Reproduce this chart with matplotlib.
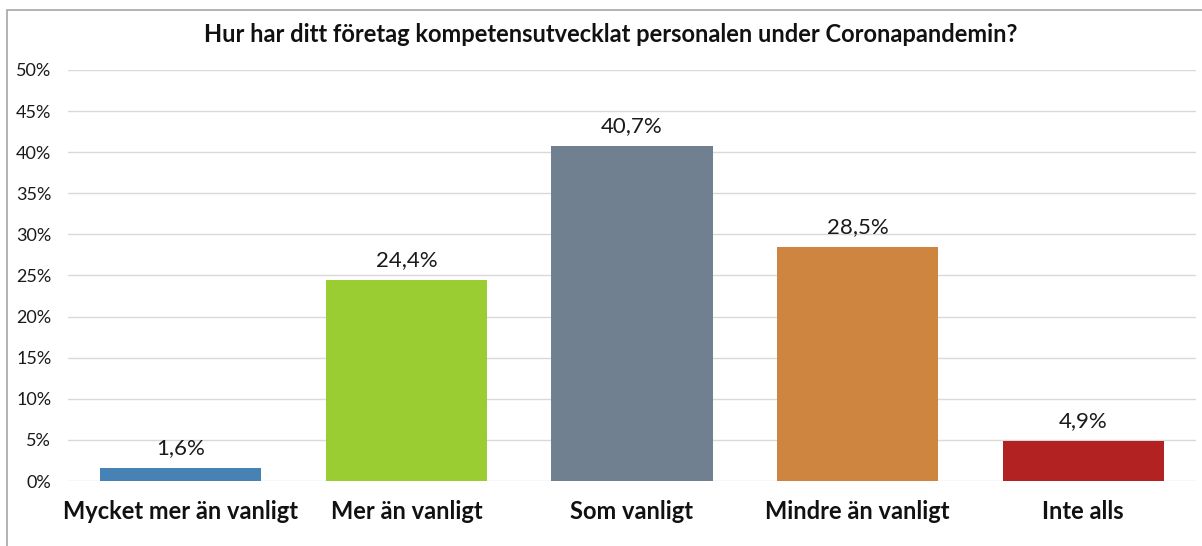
import matplotlib.pyplot as plt
from matplotlib.patches import Rectangle

categories = ["Mycket mer än vanligt", "Mer än vanligt", "Som vanligt",
              "Mindre än vanligt", "Inte alls"]
values = [1.6, 24.4, 40.7, 28.5, 4.9]
colors = ["#4682B4", "#9ACD32", "#708090", "#CD853F", "#B22222"]
yticks = [0, 5, 10, 15, 20, 25, 30, 35, 40, 45, 50]

plt.rcParams["font.family"] = ["Lato", "DejaVu Sans"]

fig = plt.figure(figsize=(12.02, 5.46), dpi=100)
ax = fig.add_axes([68 / 1202, 0.119, 1128 / 1202, 0.753])

# outer frame like the Excel chart area (right and bottom edges are off the picture)
fig.patches.append(Rectangle((7 / 1202, -0.01), 1.0, 1 - 10 / 546 + 0.01,
                             transform=fig.transFigure, fill=False,
                             edgecolor="#A6A6A6", linewidth=1.2))

x = range(len(categories))
bars = ax.bar(x, values, width=0.715, color=colors, zorder=3)

for b, v in zip(bars, values):
    ax.annotate(f"{v:.1f}%".replace(".", ","), (b.get_x() + b.get_width() / 2, v),
                xytext=(0, 10), textcoords="offset points",
                ha="center", va="baseline", fontsize=16, color="#1a1a1a")

ax.set_xlim(-0.5, len(categories) - 0.5)
ax.set_ylim(0, 50)
ax.set_yticks(yticks)
ax.set_yticklabels([f"{t}%" for t in yticks], fontsize=13, color="#1a1a1a")
ax.set_xticks(list(x))
ax.set_xticklabels(categories, fontsize=17, fontweight="bold", color="#111111")
ax.tick_params(axis="both", length=0)
ax.tick_params(axis="x", pad=14)
ax.tick_params(axis="y", pad=12)

ax.grid(axis="y", color="#D9D9D9", linewidth=1, zorder=0)
for s in ax.spines.values():
    s.set_visible(False)

fig.text(0.508, 1 - 35 / 546, "Hur har ditt företag kompetensutvecklat personalen under Coronapandemin?",
         ha="center", va="center", fontsize=17, fontweight="bold", color="#111111")

plt.savefig("out.png", dpi=100)
